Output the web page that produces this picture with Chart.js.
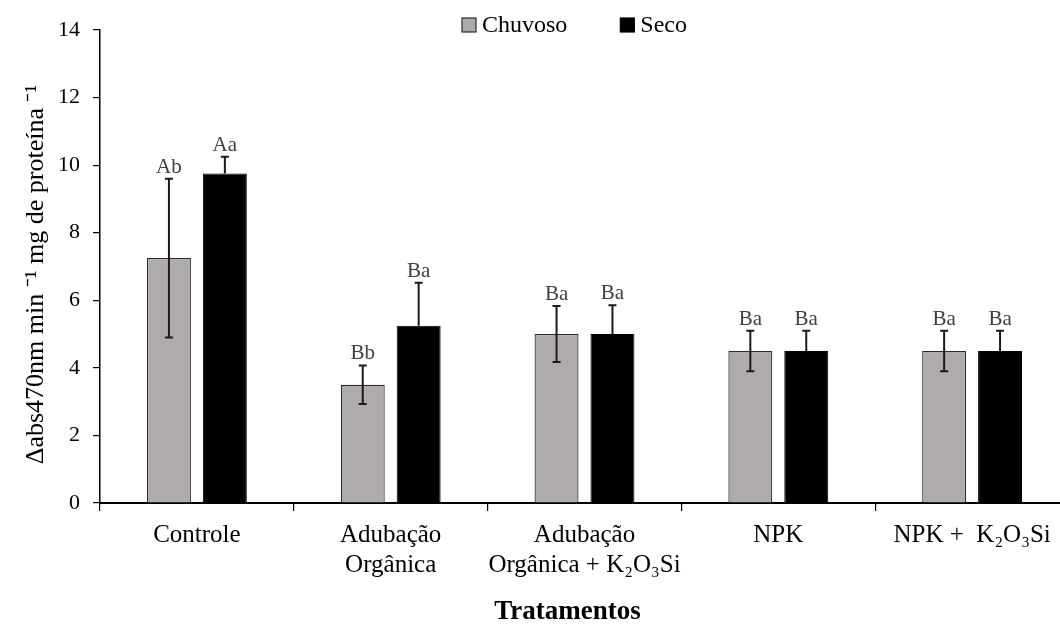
<!DOCTYPE html>
<html>
<head>
<meta charset="utf-8">
<script src="https://cdn.jsdelivr.net/npm/chart.js@4.4.1/dist/chart.umd.min.js"></script>
<style>
html, body { margin: 0; padding: 0; overflow: hidden; background: #fff; width: 1060px; height: 627px; }
#wrap { width: 1075px; height: 627px; }
</style>
</head>
<body>
<div id="wrap"><canvas id="c" width="1075" height="627"></canvas></div>
<script>
// ---- data ----
const categories = [
  ['Controle'],
  ['Adubação', 'Orgânica'],
  ['Adubação', 'Orgânica + K₂O₃Si'],
  ['NPK'],
  ['NPK +  K₂O₃Si']
];
const seriesNames = ['Chuvoso', 'Seco'];
const chuvoso = [7.25, 3.5, 5.0, 4.5, 4.5];
const seco = [9.75, 5.25, 5.0, 4.5, 4.5];
const chuvosoErr = [2.35, 0.57, 0.83, 0.6, 0.6];
const secoErr = [0.5, 1.27, 0.85, 0.6, 0.6];
const chuvosoLetters = ['Ab', 'Bb', 'Ba', 'Ba', 'Ba'];
const secoLetters = ['Aa', 'Ba', 'Ba', 'Ba', 'Ba'];
const yMin = 0, yMax = 14, yStep = 2;
const yTitle = 'Δabs470nm min ⁻¹ mg de proteína ⁻¹';
const xTitle = 'Tratamentos';

const FONT = "'Liberation Serif', 'Times New Roman', serif";
const errors = [chuvosoErr, secoErr];
const letters = [chuvosoLetters, secoLetters];

const errorPlugin = {
  id: 'errorBars',
  afterDatasetsDraw(chart) {
    const ctx = chart.ctx;
    const ys = chart.scales.y;
    ctx.save();
    chart.data.datasets.forEach((ds, i) => {
      const meta = chart.getDatasetMeta(i);
      meta.data.forEach((bar, j) => {
        const v = ds.data[j], e = errors[i][j];
        const x = bar.x;
        const yt = ys.getPixelForValue(v + e);
        const yb = ys.getPixelForValue(v - e);
        const yv = ys.getPixelForValue(v);
        ctx.strokeStyle = '#1a1a1a';
        ctx.lineWidth = 2;
        ctx.beginPath();
        if (i === 0) {
          ctx.moveTo(x, yt); ctx.lineTo(x, yb);
          ctx.moveTo(x - 4, yb); ctx.lineTo(x + 4, yb);
        } else {
          ctx.moveTo(x, yt); ctx.lineTo(x, yv);
        }
        ctx.moveTo(x - 4, yt); ctx.lineTo(x + 4, yt);
        ctx.stroke();
        ctx.fillStyle = '#404040';
        ctx.font = '21px ' + FONT;
        ctx.textAlign = 'center';
        ctx.textBaseline = 'alphabetic';
        ctx.fillText(letters[i][j], x, yt - 6);
      });
    });
    ctx.restore();
  }
};

const legendPlugin = {
  id: 'customLegend',
  afterDraw(chart) {
    const ctx = chart.ctx;
    const ca = chart.chartArea;
    ctx.save();
    ctx.font = '24px ' + FONT;
    const box = 14, gap = 6, spacing = 53;
    const ds = chart.data.datasets;
    const widths = ds.map(d => ctx.measureText(d.label).width);
    const total = widths.reduce((a, w) => a + box + gap + w, 0) + spacing * (ds.length - 1);
    let x = (ca.left + ca.right) / 2 - 10 - total / 2;
    const yc = 25;
    ds.forEach((d, i) => {
      ctx.fillStyle = d.backgroundColor;
      ctx.fillRect(x, yc - box / 2, box, box);
      ctx.strokeStyle = d.borderColor;
      ctx.lineWidth = 1.2;
      ctx.strokeRect(x, yc - box / 2, box, box);
      ctx.fillStyle = '#000';
      ctx.textAlign = 'left';
      ctx.textBaseline = 'alphabetic';
      ctx.fillText(d.label, x + box + gap, yc + 7);
      x += box + gap + widths[i] + spacing;
    });
    ctx.restore();
  }
};

const titlePlugin = {
  id: 'axisTitles',
  afterDraw(chart) {
    const ctx = chart.ctx;
    const ca = chart.chartArea;
    ctx.save();
    ctx.fillStyle = '#000';
    // x title
    ctx.font = 'bold 27px ' + FONT;
    ctx.textAlign = 'center';
    ctx.textBaseline = 'alphabetic';
    ctx.fillText(xTitle, (ca.left + ca.right) / 2 - 17, 619);
    // y title
    ctx.font = '26px ' + FONT;
    ctx.translate(43, (ca.top + ca.bottom) / 2 + 8);
    ctx.rotate(-Math.PI / 2);
    ctx.fillText(yTitle, 0, 0);
    ctx.restore();
  }
};

new Chart(document.getElementById('c'), {
  type: 'bar',
  data: {
    labels: categories,
    datasets: [
      { label: seriesNames[0], data: chuvoso, backgroundColor: '#aeabaa', borderColor: '#2a2a2a', borderWidth: 1.2,
        categoryPercentage: 0.577, barPercentage: 0.786 },
      { label: seriesNames[1], data: seco, backgroundColor: '#000000', borderColor: '#000000', borderWidth: 1,
        categoryPercentage: 0.577, barPercentage: 0.786 }
    ]
  },
  options: {
    responsive: false,
    devicePixelRatio: 1,
    animation: false,
    layout: { padding: { top: 30, right: 6, left: 0, bottom: 0 } },
    plugins: { legend: { display: false }, tooltip: { enabled: false } },
    scales: {
      x: {
        grid: { display: true, drawOnChartArea: false, drawTicks: true, tickLength: 8, tickColor: '#000', lineWidth: 1.2, offset: true },
        border: { display: true, color: '#000', width: 2 },
        ticks: { color: '#000', font: { family: FONT, size: 25, lineHeight: 1.2 }, padding: 9, maxRotation: 0, autoSkip: false },
        title: { display: false, text: xTitle },
        afterFit(scale) { scale.height = 124; }
      },
      y: {
        min: yMin, max: yMax,
        grid: { display: true, drawOnChartArea: false, drawTicks: true, tickLength: 7, tickColor: '#000', lineWidth: 1.2 },
        border: { display: true, color: '#000', width: 1.5 },
        ticks: { stepSize: yStep, color: '#000', font: { family: FONT, size: 22 }, padding: 13 },
        title: { display: false, text: yTitle },
        afterFit(scale) { scale.width = 100; }
      }
    }
  },
  plugins: [errorPlugin, legendPlugin, titlePlugin]
});
</script>
</body>
</html>
